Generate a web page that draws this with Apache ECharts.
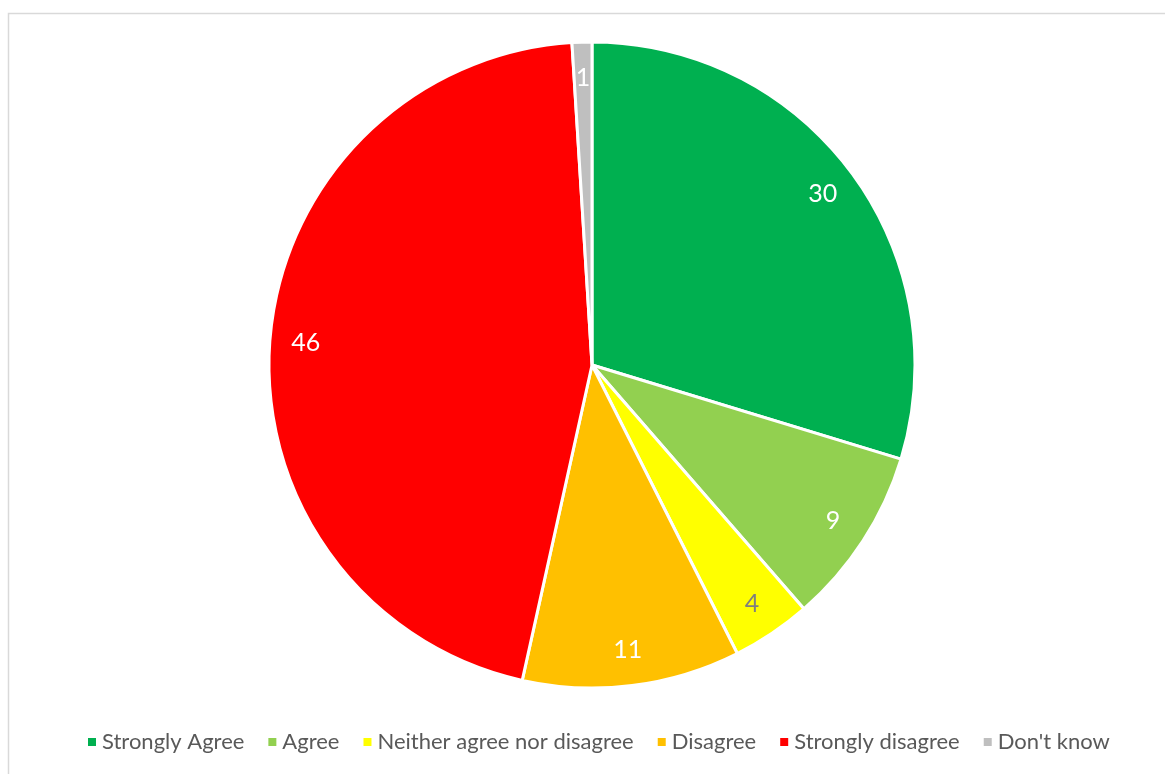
<!DOCTYPE html>
<html>
<head>
<meta charset="utf-8">
<script src="https://cdn.jsdelivr.net/npm/echarts@6/dist/echarts.min.js"></script>
<style>
  html, body { margin: 0; padding: 0; background: #fff; }
  #chart { width: 1165px; height: 774px; }
</style>
</head>
<body>
<div id="chart"></div>
<script>
// Survey responses
const categories = ['Strongly Agree', 'Agree', 'Neither agree nor disagree', 'Disagree', 'Strongly disagree', "Don't know"];
const values = [30, 9, 4, 11, 46, 1];
const colors = ['#00B050', '#92D050', '#FFFF00', '#FFC000', '#FF0000', '#BFBFBF'];
const labelColors = ['#ffffff', '#ffffff', '#7f7f7f', '#ffffff', '#ffffff', '#ffffff'];

const chart = echarts.init(document.getElementById('chart'));
const fontFamily = 'Lato, "Open Sans", "Liberation Sans", sans-serif';
const center = [592, 365];
const R = 323;

const sliceData = categories.map((name, i) => ({
  name, value: values[i], itemStyle: { color: colors[i] }
}));
// Label ring: transparent slices whose mid-radius sits near the outer edge
const labelData = categories.map((name, i) => ({
  name, value: values[i],
  itemStyle: { color: 'rgba(0,0,0,0)', borderWidth: 0 },
  label: { color: labelColors[i] }
}));

chart.setOption({
  animation: false,
  graphic: [{
    type: 'rect',
    shape: { x: 8.5, y: 13.5, width: 1170, height: 800 },
    style: { fill: 'none', stroke: '#d9d9d9', lineWidth: 1.5 },
    silent: true
  }],
  legend: {
    data: categories,
    top: 726,
    left: 81,
    icon: 'rect',
    itemWidth: 10,
    itemHeight: 10,
    itemGap: 22,
    textStyle: { fontFamily, fontSize: 22, color: '#595959' }
  },
  series: [
    {
      type: 'pie',
      center,
      radius: [0, R],
      startAngle: 90,
      clockwise: true,
      label: { show: false },
      labelLine: { show: false },
      itemStyle: { borderColor: '#ffffff', borderWidth: 3 },
      emphasis: { disabled: true },
      data: sliceData
    },
    {
      type: 'pie',
      center,
      radius: [R * 0.76, R],
      startAngle: 90,
      clockwise: true,
      silent: true,
      label: {
        show: true,
        position: 'inside',
        formatter: '{c}',
        fontFamily,
        fontSize: 25
      },
      labelLine: { show: false },
      emphasis: { disabled: true },
      data: labelData
    }
  ]
});
</script>
</body>
</html>
